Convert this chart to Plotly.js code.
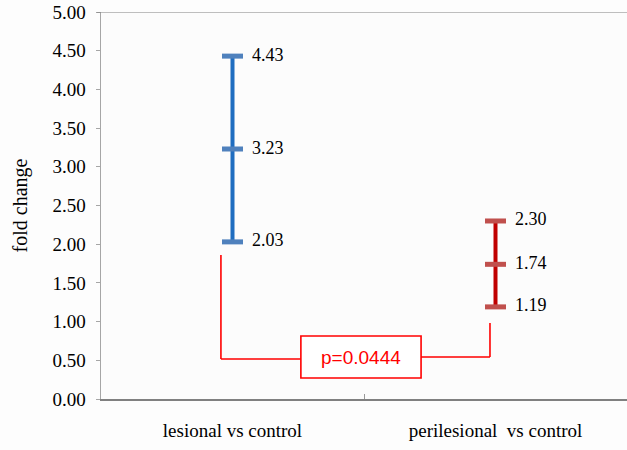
<!DOCTYPE html>
<html>
<head>
<meta charset="utf-8">
<script src="https://cdn.plot.ly/plotly-3.0.1.min.js"></script>
<style>html,body{margin:0;padding:0;background:#fdfdfd;}</style>
</head>
<body>
<div id="chart" style="width:627px;height:450px;"></div>
<script>
// Data
const categories = ['lesional vs control', 'perilesional  vs control'];
const lesionalValues = [2.03, 3.23, 4.43];       // lower, mean, upper
const perilesionalValues = [1.19, 1.74, 2.30];   // lower, mean, upper
const pValueText = 'p=0.0444';
const yTickMax = 5;

const SERIF = 'Liberation Serif';
function fmt(v){ return '\u00a0\u00a0' + v.toFixed(2); }

const traces = [
  {
    x: lesionalValues.map(() => categories[0]),
    y: lesionalValues,
    type: 'scatter',
    mode: 'lines+markers+text',
    line: {color: '#1F6DC0', width: 4},
    marker: {symbol: 'line-ew', size: 15, line: {color: '#4F81BD', width: 5}},
    text: lesionalValues.map(fmt),
    textposition: 'middle right',
    textfont: {family: SERIF, size: 18, color: '#000'},
    hoverinfo: 'skip',
    cliponaxis: false
  },
  {
    x: perilesionalValues.map(() => categories[1]),
    y: perilesionalValues,
    type: 'scatter',
    mode: 'lines+markers+text',
    line: {color: '#C00000', width: 4},
    marker: {symbol: 'line-ew', size: 15, line: {color: '#C0504D', width: 5}},
    text: perilesionalValues.map(fmt),
    textposition: 'middle right',
    textfont: {family: SERIF, size: 18, color: '#000'},
    hoverinfo: 'skip',
    cliponaxis: false
  }
];

// significance bracket (in category-index / data units)
const bx0 = -0.044, bx1 = 0.979;
const boxX0 = 0.26, boxX1 = 0.717, boxY0 = 0.271, boxY1 = 0.814;
const leftTop = 1.86, leftBottom = 0.517, rightTop = 0.982, rightBottom = 0.543;
const red = '#FF0000';

const shapes = [
  {type:'line', xref:'x', yref:'y', x0:bx0, x1:bx0, y0:leftTop, y1:leftBottom, line:{color:red, width:1.6}},
  {type:'line', xref:'x', yref:'y', x0:bx0, x1:boxX0, y0:leftBottom, y1:leftBottom, line:{color:red, width:1.6}},
  {type:'rect', xref:'x', yref:'y', x0:boxX0, x1:boxX1, y0:boxY0, y1:boxY1, line:{color:red, width:1.6}, fillcolor:'#ffffff'},
  {type:'line', xref:'x', yref:'y', x0:boxX1, x1:bx1, y0:rightBottom, y1:rightBottom, line:{color:red, width:1.6}},
  {type:'line', xref:'x', yref:'y', x0:bx1, x1:bx1, y0:rightBottom, y1:rightTop, line:{color:red, width:1.6}}
];

const layout = {
  width: 627, height: 450,
  margin: {l: 101, r: 0, t: 12, b: 51},
  paper_bgcolor: '#fdfdfd',
  plot_bgcolor: '#fcfcfc',
  showlegend: false,
  font: {family: SERIF, color: '#000'},
  xaxis: {
    type: 'category',
    categoryorder: 'array',
    categoryarray: categories,
    range: [-0.5, 1.5],
    showline: true, linecolor: '#808080', linewidth: 2,
    showgrid: false, zeroline: false,
    ticks: 'inside', tickson: 'boundaries', ticklen: 5, tickcolor: '#999', tickwidth: 1,
    tickfont: {size: 19, family: SERIF, color: '#000'},
    ticklabelstandoff: 13,
    fixedrange: true
  },
  yaxis: {
    range: [0, yTickMax],
    dtick: 0.5, tick0: 0,
    tickformat: '.2f',
    showline: true, linecolor: '#a6a6a6', linewidth: 1.5,
    showgrid: false, zeroline: false,
    ticks: 'outside', ticklen: 4, tickcolor: '#a6a6a6', tickwidth: 1,
    tickfont: {size: 19, family: SERIF, color: '#000'},
    ticklabelstandoff: 6,
    title: {text: 'fold change', font: {size: 20, family: SERIF, color: '#000'}, standoff: 19},
    fixedrange: true
  },
  shapes: shapes.concat([
    {type:'line', xref:'paper', yref:'y', x0:-0.008, x1:1, y0:yTickMax, y1:yTickMax, line:{color:'#808080', width:1.2}}
  ]),
  annotations: [
    {xref:'x', yref:'y', x:(boxX0+boxX1)/2, y:(boxY0+boxY1)/2, text:pValueText, showarrow:false,
     font:{family:'Liberation Sans', size:19, color:red}}
  ]
};

Plotly.newPlot('chart', traces, layout, {displayModeBar: false, staticPlot: true});
</script>
</body>
</html>
